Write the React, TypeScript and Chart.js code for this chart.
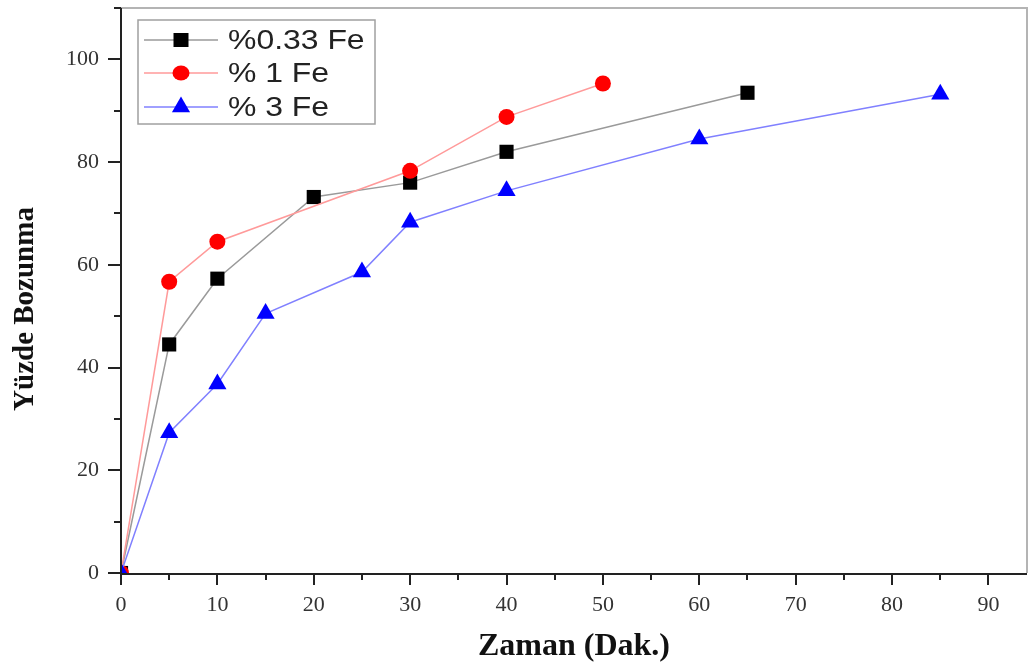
import React, { useEffect, useRef } from 'react';
import { Chart, registerables } from 'chart.js';

Chart.register(...registerables);

// ---- Data ----
const timeFe033 = [0, 5, 10, 20, 30, 40, 65];
const valFe033 = [0, 44.5, 57.3, 73.2, 76, 82, 93.5];
const timeFe1 = [0, 5, 10, 30, 40, 50];
const valFe1 = [0, 56.7, 64.5, 78.3, 88.8, 95.3];
const timeFe3 = [0, 5, 10, 15, 25, 30, 40, 60, 85];
const valFe3 = [0, 27.3, 36.8, 50.5, 58.6, 68.3, 74.4, 84.5, 93.2];
const seriesLabels = ['%0.33 Fe', '% 1 Fe', '% 3 Fe'];
const xTicks = [0, 10, 20, 30, 40, 50, 60, 70, 80, 90];
const xMinorTicks = [5, 15, 25, 35, 45, 55, 65, 75, 85];
const yTicks = [0, 20, 40, 60, 80, 100];
const yMinorTicks = [10, 30, 50, 70, 90, 110];
const xTitle = 'Zaman (Dak.)';
const yTitle = 'Yüzde Bozunma';

const markerColors = ['#000000', '#ff0000', '#0000ff'];
const lineColors = ['#9a9a9a', '#ff9a9a', '#8080ff'];
const markerStyles = ['rect', 'circle', 'triangle'];
const markerRadii = [10, 8, 10.5];
const drawOrder = [2, 1, 0];

const serif = '"Liberation Serif", "Times New Roman", serif';

const zip = (xs: number[], ys: number[]) => xs.map((x, i) => ({ x, y: ys[i] }));

const decorPlugin = {
  id: 'decor',
  afterDraw(chart: any) {
    const { ctx, chartArea: a, scales } = chart;
    const x = scales.x;
    const y = scales.y;
    ctx.save();
    // frame top/right
    ctx.strokeStyle = '#b4b4b4';
    ctx.lineWidth = 2;
    ctx.beginPath();
    ctx.moveTo(a.left, a.top);
    ctx.lineTo(a.right, a.top);
    ctx.lineTo(a.right, a.bottom);
    ctx.stroke();
    // axes
    ctx.strokeStyle = '#222';
    ctx.lineWidth = 2;
    ctx.beginPath();
    ctx.moveTo(a.left, a.top);
    ctx.lineTo(a.left, a.bottom + 1);
    ctx.lineTo(a.right, a.bottom + 1);
    ctx.stroke();
    // ticks
    ctx.lineWidth = 2;
    ctx.beginPath();
    yTicks.forEach((v) => {
      const py = Math.round(y.getPixelForValue(v));
      ctx.moveTo(a.left, py);
      ctx.lineTo(a.left - 13, py);
    });
    yMinorTicks.forEach((v) => {
      const py = Math.round(y.getPixelForValue(v));
      ctx.moveTo(a.left, py);
      ctx.lineTo(a.left - 7, py);
    });
    xTicks.forEach((v) => {
      const px = Math.round(x.getPixelForValue(v));
      ctx.moveTo(px, a.bottom);
      ctx.lineTo(px, a.bottom + 12);
    });
    xMinorTicks.forEach((v) => {
      const px = Math.round(x.getPixelForValue(v));
      ctx.moveTo(px, a.bottom);
      ctx.lineTo(px, a.bottom + 7);
    });
    ctx.stroke();

    // y-axis title
    ctx.save();
    ctx.translate(26, 309);
    ctx.rotate(-Math.PI / 2);
    ctx.fillStyle = '#111';
    ctx.font = 'bold 29px ' + serif;
    ctx.textAlign = 'center';
    ctx.textBaseline = 'middle';
    ctx.fillText(yTitle, 0, 0);
    ctx.restore();

    // legend
    const bx = 138, by = 20, bw = 237, bh = 104;
    ctx.fillStyle = '#ffffff';
    ctx.fillRect(bx, by, bw, bh);
    ctx.strokeStyle = '#a0a0a0';
    ctx.lineWidth = 1.5;
    ctx.strokeRect(bx, by, bw, bh);
    const rows = [40, 73, 107];
    seriesLabels.forEach((label, i) => {
      const ry = rows[i];
      ctx.strokeStyle = lineColors[i];
      ctx.lineWidth = 1.5;
      ctx.beginPath();
      ctx.moveTo(144, ry);
      ctx.lineTo(218, ry);
      ctx.stroke();
      ctx.fillStyle = markerColors[i];
      const mx = 181;
      ctx.beginPath();
      if (i === 0) {
        ctx.rect(mx - 7.5, ry - 7, 15, 14);
      } else if (i === 1) {
        ctx.ellipse(mx, ry, 8.5, 7.5, 0, 0, Math.PI * 2);
      } else {
        const r = 10.5;
        ctx.moveTo(mx, ry - r);
        ctx.lineTo(mx + r * Math.sin(Math.PI / 3), ry + r / 2);
        ctx.lineTo(mx - r * Math.sin(Math.PI / 3), ry + r / 2);
        ctx.closePath();
      }
      ctx.fill();
      ctx.save();
      ctx.translate(228, ry + 1);
      ctx.scale(1.14, 1);
      ctx.fillStyle = '#222';
      ctx.font = '28px "Liberation Sans", Arial, sans-serif';
      ctx.textBaseline = 'middle';
      ctx.textAlign = 'left';
      ctx.fillText(label, 0, 0);
      ctx.restore();
    });
    ctx.restore();
  },
};

export default function App() {
  const ref = useRef<HTMLCanvasElement | null>(null);
  useEffect(() => {
    document.body.style.margin = '0';
    const canvas = ref.current;
    if (!canvas) return;
    const xs = [timeFe033, timeFe1, timeFe3];
    const ys = [valFe033, valFe1, valFe3];
    const chart = new Chart(canvas, {
      type: 'line',
      data: {
        datasets: seriesLabels.map((label, i) => ({
          label,
          data: zip(xs[i], ys[i]),
          order: drawOrder[i],
          borderColor: lineColors[i],
          backgroundColor: markerColors[i],
          borderWidth: 1.5,
          pointStyle: markerStyles[i] as any,
          pointRadius: markerRadii[i],
          pointBackgroundColor: markerColors[i],
          pointBorderColor: markerColors[i],
          pointBorderWidth: 0,
          tension: 0,
          fill: false,
        })),
      },
      options: {
        responsive: false,
        animation: false,
        layout: { autoPadding: false, padding: { top: 8, right: 1, left: 0, bottom: 0 } },
        plugins: { legend: { display: false }, tooltip: { enabled: false } },
        scales: {
          x: {
            type: 'linear',
            min: 0,
            max: 94,
            grid: { display: false },
            border: { display: false },
            afterBuildTicks: (s: any) => {
              s.ticks = xTicks.map((v) => ({ value: v }));
            },
            afterFit: (s: any) => {
              s.height = 93;
              s.paddingLeft = 0;
              s.paddingRight = 0;
            },
            ticks: {
              color: '#333',
              padding: 11,
              maxRotation: 0,
              autoSkip: false,
              font: { family: serif, size: 22 },
            },
            title: {
              display: true,
              text: xTitle,
              color: '#111',
              padding: { top: 0, bottom: 0 },
              font: { family: serif, size: 32, weight: 'bold', lineHeight: 1.2 },
            },
          },
          y: {
            type: 'linear',
            min: 0,
            max: 110,
            grid: { display: false },
            border: { display: false },
            afterBuildTicks: (s: any) => {
              s.ticks = yTicks.map((v) => ({ value: v }));
            },
            afterFit: (s: any) => {
              s.width = 121;
              s.paddingTop = 0;
              s.paddingBottom = 0;
            },
            ticks: {
              color: '#333',
              padding: 14,
              autoSkip: false,
              font: { family: serif, size: 22 },
            },
          },
        },
      },
      plugins: [decorPlugin],
    });
    return () => chart.destroy();
  }, []);
  return (
    <div style={{ position: 'absolute', left: 0, top: 0, width: 1028, height: 666, background: '#fff' }}>
      <canvas ref={ref} width={1028} height={666} />
    </div>
  );
}
